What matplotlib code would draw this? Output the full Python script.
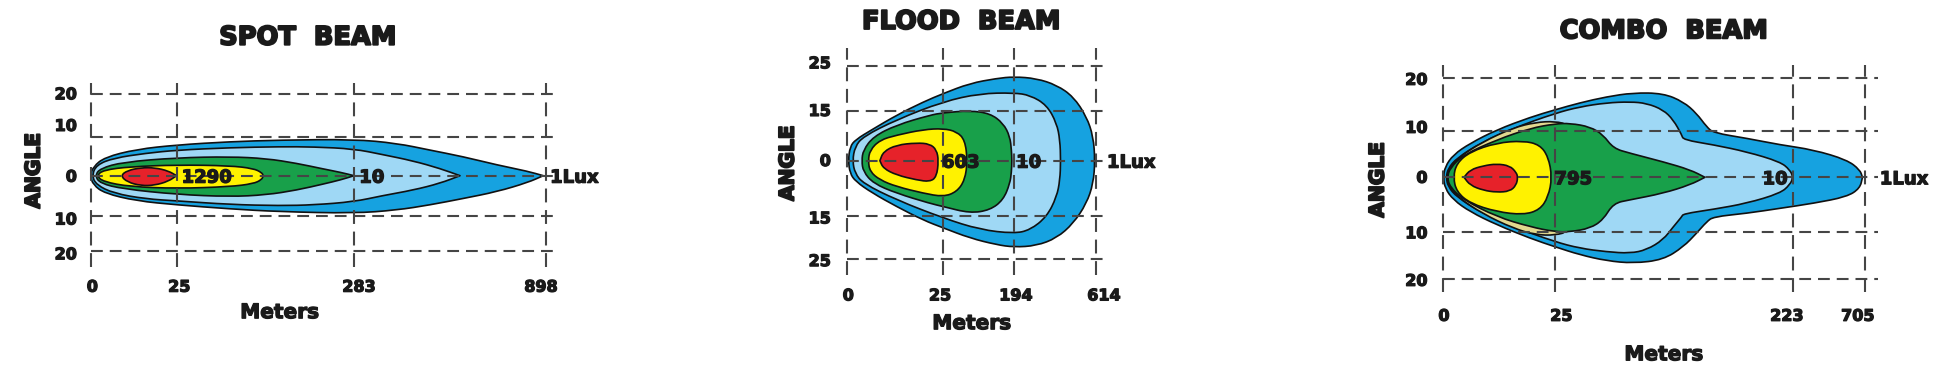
import matplotlib
matplotlib.use('Agg')
import matplotlib.pyplot as plt
import matplotlib.patheffects as pe
from matplotlib.path import Path
from matplotlib.patches import PathPatch

plt.rcParams['font.family'] = ['DejaVu Sans']
plt.rcParams['font.weight'] = 'bold'
plt.rcParams['lines.scale_dashes'] = False

W, H = 1946, 378

DARK_BLUE = '#16a2e0'
LIGHT_BLUE = '#9fd8f5'
KHAKI = '#e2d98f'
GREEN = '#18a04a'
YELLOW = '#fff200'
RED = '#e6222a'
GRID = '#454545'
TXT = '#1a1a1a'

# ---- isolux outlines: x = % of distance to the 1 lux mark, y = angle (upper / lower edge)
# SPOT
spot_outer_x = [-0.2, 0.5, 3, 10, 19, 30.5, 41.5, 57.8, 67.2, 74.5, 81.8, 89.2, 96, 99.4]
spot_outer_top = [0, 2.25, 4.6, 6.6, 7.7, 8.5, 8.9, 9.1, 8.1, 6.4, 4.75, 2.7, 1.1, 0]
spot_outer_bot = [0, -2.3, -4.4, -6.3, -7.3, -8.3, -9.0, -9.4, -8.6, -7.3, -5.7, -4.0, -1.7, 0]
spot_light_x = [0.2, 1.2, 5, 12, 19, 30.5, 41.5, 49, 57.8, 64, 70.8, 76.7, 81.1]
spot_light_top = [0, 2.7, 4.4, 5.6, 6.4, 7.0, 7.25, 7.2, 6.7, 5.3, 3.7, 1.8, 0]
spot_light_bot = [0, -2.3, -4.4, -5.8, -6.3, -7.2, -7.5, -7.3, -6.5, -5.0, -3.6, -1.9, 0]
spot_green_x = [0.9, 2, 7, 19, 30.5, 38.5, 45.2, 51, 55, 57.8]
spot_green_top = [0, 1.8, 3.4, 4.5, 4.75, 4.3, 3.1, 1.7, 0.8, 0]
spot_green_bot = [0, -1.9, -3.3, -4.7, -5.25, -4.8, -3.6, -2.1, -1.0, 0]
spot_yellow_x = [1.25, 2.7, 8.6, 19, 30.5, 35.7, 37.5, 37.9]
spot_yellow_top = [0, 1.4, 2.25, 2.7, 2.5, 1.8, 0.8, 0]
spot_yellow_bot = [0, -1.5, -2.75, -3.2, -2.75, -2.0, -1.0, 0]
spot_red_x = [6.5, 8, 11, 14, 17, 18.8]
spot_red_top = [0, 1.3, 2.0, 2.0, 1.2, 0]
spot_red_bot = [0, -1.6, -2.5, -2.4, -1.4, 0]

# FLOOD
flood_outer_x = [0.4, 1.1, 3.3, 10, 19.8, 30.6, 38.6, 49.3, 60, 67, 76, 84.2, 90.9, 96.2, 98.9, 99.6]
flood_outer_top = [0, 4.0, 6.0, 8.9, 13.0, 16.8, 19.2, 22.1, 23.5, 24.0, 23.5, 21.6, 18.3, 12.6, 6.9, 0]
flood_outer_bot = [0, -3.6, -5.9, -9.2, -13.1, -17.0, -19.2, -22.1, -24.0, -24.7, -24.3, -22.1, -17.9, -12.2, -6.5, 0]
flood_light_x = [2.1, 3.1, 6.4, 19.8, 38.6, 53.4, 67, 73.5, 80.2, 84.2, 85.5, 85.8]
flood_light_top = [0, 4.0, 6.9, 11.7, 16.9, 19.2, 19.4, 18.7, 15.9, 10.7, 5.9, 0]
flood_light_bot = [0, -3.6, -6.5, -11.2, -16.4, -19.7, -20.8, -19.8, -16.0, -10.3, -5.5, 0]
flood_green_x = [5.8, 6.4, 10.5, 19.8, 33.2, 38.6, 49.3, 57.4, 62.7, 65.4, 66.0, 66.2]
flood_green_top = [0, 3.0, 6.9, 10.2, 13.0, 13.7, 14.3, 13.5, 10.7, 6.9, 3.0, 0]
flood_green_bot = [0, -3.1, -6.5, -9.3, -12.2, -13.1, -15.0, -14.1, -11.2, -6.5, -3.2, 0]
flood_yellow_x = [8.4, 9.1, 13.1, 19.8, 30.6, 38.6, 44.0, 47.3, 48.3]
flood_yellow_top = [0, 3.0, 5.9, 7.3, 8.9, 9.2, 8.3, 5.9, 0]
flood_yellow_bot = [0, -3.1, -5.5, -7.4, -9.3, -10.3, -8.9, -5.5, 0]
flood_red_x = [13.1, 14.5, 19.8, 27.9, 33.2, 35.9, 36.7]
flood_red_top = [0, 2.6, 4.5, 5.1, 4.8, 3.1, 0]
flood_red_bot = [0, -2.2, -4.1, -5.5, -6.0, -4.6, 0]

# COMBO
combo_outer_x = [0.16, 0.55, 2.5, 6.5, 12.8, 20.7, 26.6, 32.5, 38.8, 45.1, 52.2, 57.0,
                 60.1, 62.5, 64.1, 72.0, 79.9, 87.8, 95.7, 98.8, 99.4]
combo_outer_top = [0, 2.1, 4.5, 6.8, 9.5, 12.0, 13.5, 14.9, 16.1, 16.9, 16.8, 15.1,
                   12.8, 10.1, 8.9, 7.8, 6.5, 5.5, 3.5, 1.5, 0]
combo_outer_bot = [0, -2.2, -4.5, -6.9, -9.5, -12.2, -13.9, -15.5, -16.7, -17.2, -16.5, -13.9,
                   -11.2, -8.9, -7.9, -7.2, -6.2, -5.2, -3.9, -2.2, 0]
combo_light_x = [0.8, 1.3, 3.3, 8.8, 16.7, 26.6, 32.5, 38.8, 44.4, 48.3, 52.2, 54.6,
                 56.6, 57.0, 64.1, 72.0, 79.9, 82.2, 83.0]
combo_light_top = [0, 1.8, 3.8, 6.8, 9.8, 12.8, 14.1, 14.9, 15.1, 14.8, 13.5, 11.5,
                   8.5, 7.5, 6.5, 5.1, 3.1, 1.5, 0]
combo_light_bot = [0, -1.9, -3.9, -6.9, -9.9, -12.9, -14.2, -14.9, -15.2, -14.5, -12.5, -9.9,
                   -7.9, -7.3, -6.4, -5.2, -3.2, -1.5, 0]
combo_khaki_x = [1.0, 1.6, 4.0, 9.5, 16.7, 22.0, 26.6, 30.0, 33.0]
combo_khaki_top = [0, 1.9, 4.1, 7.1, 9.9, 11.0, 11.2, 10.5, 0]
combo_khaki_bot = [0, -2.0, -4.2, -7.3, -10.2, -11.5, -11.6, -10.8, 0]
combo_green_x = [1.1, 1.7, 4.9, 12.8, 20.7, 26.6, 30.2, 34.9, 38.0, 40.4, 44.4, 52.2, 58.6, 62.1]
combo_green_top = [0, 1.8, 4.5, 7.5, 9.8, 10.7, 10.8, 10.1, 8.5, 5.8, 4.8, 3.1, 1.5, 0]
combo_green_bot = [0, -1.9, -4.5, -7.9, -9.9, -10.9, -10.9, -10.2, -8.5, -5.2, -4.5, -3.2, -1.5, 0]
combo_yellow_x = [2.5, 3.3, 6.5, 12.8, 19.1, 23.0, 25.0, 25.9]
combo_yellow_top = [0, 2.8, 5.1, 6.9, 7.3, 6.5, 4.1, 0]
combo_yellow_bot = [0, -2.9, -5.2, -6.9, -7.5, -6.5, -3.9, 0]
combo_red_x = [5.05, 6.5, 9.6, 12.8, 15.9, 17.4, 17.8]
combo_red_top = [0, 1.5, 2.3, 2.7, 2.3, 1.0, 0]
combo_red_bot = [0, -1.6, -2.6, -3.0, -2.8, -1.6, 0]

# ---- grid and labels
spot_xgrid = [0, 19.0, 57.8, 100]
spot_xlabels = ['0', '25', '283', '898']
spot_xlabel_pos = [0.3, 19.4, 58.9, 98.9]
spot_ygrid = [20.3, 9.75, 0, -10, -18.75]
spot_ylabels = ['20', '10', '0', '10', '20']
spot_ylabel_pos = [20.6, 12.7, 0, -10.7, -19.4]
spot_values = ['1290', '10']
spot_value_pos = [25.4, 61.7]

flood_xgrid = [0, 38.6, 67.0, 100]
flood_xlabels = ['0', '25', '194', '614']
flood_xlabel_pos = [0.4, 37.3, 67.8, 103.2]
flood_ygrid = [27.0, 14.3, 0, -15.7, -28.2]
flood_ylabels = ['25', '15', '0', '15', '25']
flood_ylabel_pos = [28.1, 14.5, 0.2, -16.2, -28.4]
flood_values = ['603', '10']
flood_value_pos = [45.6, 72.9]

combo_xgrid = [0, 26.6, 83.0, 100]
combo_xlabels = ['0', '25', '223', '705']
combo_xlabel_pos = [0.3, 28.1, 81.5, 98.3]
combo_ygrid = [19.8, 9.3, 0, -10.9, -20.4]
combo_ylabels = ['20', '10', '0', '10', '20']
combo_ylabel_pos = [19.7, 10.1, 0.1, -11, -20.5]
combo_values = ['795', '10']
combo_value_pos = [30.9, 78.7]

heavy = [pe.withStroke(linewidth=0.9, foreground=TXT)]
heavier = [pe.withStroke(linewidth=1.4, foreground=TXT)]


def beam_patch(x, top, bot, color, sharp_nose=False, sharp_tip=False):
    # smooth closed outline (quadratic curves through the midpoints), optional sharp ends
    pts = list(zip(x, top)) + list(zip(x[-2:0:-1], bot[-2:0:-1]))
    n = len(x)
    corners = [sharp_nose] + [False] * (n - 2) + [sharp_tip] + [False] * (n - 2)
    m = len(pts)
    mid = lambda a, b: ((a[0] + b[0]) / 2, (a[1] + b[1]) / 2)
    verts = [mid(pts[-1], pts[0])]
    codes = [Path.MOVETO]
    for i in range(m):
        p, q = pts[i], pts[(i + 1) % m]
        verts += [p, mid(p, q)]
        if corners[i]:
            codes += [Path.LINETO, Path.LINETO]
        else:
            codes += [Path.CURVE3, Path.CURVE3]
    verts.append(verts[0])
    codes.append(Path.CLOSEPOLY)
    return PathPatch(Path(verts, codes), facecolor=color, edgecolor='#111111',
                     lw=1.2, joinstyle='round', zorder=2)


def panel(fig, lay, shapes, xgrid, ygrid, hspan, vspan, xlabels, xlabel_pos, xlab_y,
          ylabels, ylabel_pos, ylab_x, values, value_pos, lux_x, title, title_xy,
          meters_xy, angle_xy):
    ax = fig.add_axes([0, 0, 1, 1])
    ax.set_axis_off()
    ax.patch.set_alpha(0)
    sx = (lay['x1'] - lay['x0']) / 100.0
    sy = lay['sy']
    ax.set_xlim(-lay['x0'] / sx, (W - lay['x0']) / sx)
    ax.set_ylim((lay['y0'] - H) / sy, lay['y0'] / sy)

    for (x, top, bot, color, sn, st) in shapes:
        ax.add_patch(beam_patch(x, top, bot, color, sn, st))

    for g in ygrid:
        ax.plot([0, hspan], [g, g], color=GRID, lw=1.5, dashes=(8.5, 5), zorder=3)
    for g in xgrid:
        ax.plot([g, g], vspan, color=GRID, lw=1.5, dashes=(10, 5.5), zorder=3)

    kw = dict(color=TXT, va='center_baseline', path_effects=heavy)
    for lab, p in zip(xlabels, xlabel_pos):
        ax.text(p, xlab_y, lab, ha='center', fontsize=11.5, **kw)
    for lab, p in zip(ylabels, ylabel_pos):
        ax.text(ylab_x, p, lab, ha='right', fontsize=11.5, **kw)
    for lab, p in zip(values, value_pos):
        ax.text(p, 0, lab, ha='center', fontsize=13, zorder=4, **kw)
    ax.text(lux_x, 0, '1Lux', ha='left', fontsize=13, **kw)
    ax.text(title_xy[0], title_xy[1], title, ha='center', fontsize=18.5, color=TXT,
            va='center_baseline', path_effects=heavier)
    ax.text(meters_xy[0], meters_xy[1], 'Meters', ha='center', fontsize=14.5, **kw)
    ax.text(angle_xy[0], angle_xy[1], 'ANGLE', ha='center', va='center', rotation=90,
            fontsize=14.5, color=TXT, path_effects=heavier)


fig = plt.figure(figsize=(W / 100, H / 100), dpi=100)
fig.patch.set_facecolor('white')

panel(fig, {'x0': 91, 'x1': 546, 'y0': 175.7, 'sy': 4.0},
      [(spot_outer_x, spot_outer_top, spot_outer_bot, DARK_BLUE, False, True),
       (spot_light_x, spot_light_top, spot_light_bot, LIGHT_BLUE, False, True),
       (spot_green_x, spot_green_top, spot_green_bot, GREEN, False, True),
       (spot_yellow_x, spot_yellow_top, spot_yellow_bot, YELLOW, False, False),
       (spot_red_x, spot_red_top, spot_red_bot, RED, False, True)],
      spot_xgrid, spot_ygrid, 101.5, [-22.8, 23.2],
      spot_xlabels, spot_xlabel_pos, -27.5, spot_ylabels, spot_ylabel_pos, -3.1,
      spot_values, spot_value_pos, 100.9, 'SPOT  BEAM', (47.7, 35.25),
      (41.5, -33.75), (-12.5, 1.25))

panel(fig, {'x0': 847.3, 'x1': 1096, 'y0': 160.7, 'sy': 3.5},
      [(flood_outer_x, flood_outer_top, flood_outer_bot, DARK_BLUE, False, False),
       (flood_light_x, flood_light_top, flood_light_bot, LIGHT_BLUE, False, False),
       (flood_green_x, flood_green_top, flood_green_bot, GREEN, False, False),
       (flood_yellow_x, flood_yellow_top, flood_yellow_bot, YELLOW, False, False),
       (flood_red_x, flood_red_top, flood_red_bot, RED, True, False)],
      flood_xgrid, flood_ygrid, 103.6, [-32.7, 32.1],
      flood_xlabels, flood_xlabel_pos, -38.2, flood_ylabels, flood_ylabel_pos, -6.6,
      flood_values, flood_value_pos, 104.4, 'FLOOD  BEAM', (45.9, 40.5),
      (50.1, -46), (-23.8, -0.7))

panel(fig, {'x0': 1442.7, 'x1': 1865, 'y0': 177.3, 'sy': 5.0},
      [(combo_outer_x, combo_outer_top, combo_outer_bot, DARK_BLUE, False, True),
       (combo_light_x, combo_light_top, combo_light_bot, LIGHT_BLUE, False, False),
       (combo_khaki_x, combo_khaki_top, combo_khaki_bot, KHAKI, False, False),
       (combo_green_x, combo_green_top, combo_green_bot, GREEN, False, True),
       (combo_yellow_x, combo_yellow_top, combo_yellow_bot, YELLOW, False, False),
       (combo_red_x, combo_red_top, combo_red_bot, RED, True, False)],
      combo_xgrid, combo_ygrid, 103, [-22.9, 22.5],
      combo_xlabels, combo_xlabel_pos, -27.5, combo_ylabels, combo_ylabel_pos, -3.6,
      combo_values, combo_value_pos, 103.5, 'COMBO  BEAM', (52.4, 29.8),
      (52.4, -35.1), (-15.3, -0.5))

fig.savefig('out.png', dpi=100, facecolor='white')
